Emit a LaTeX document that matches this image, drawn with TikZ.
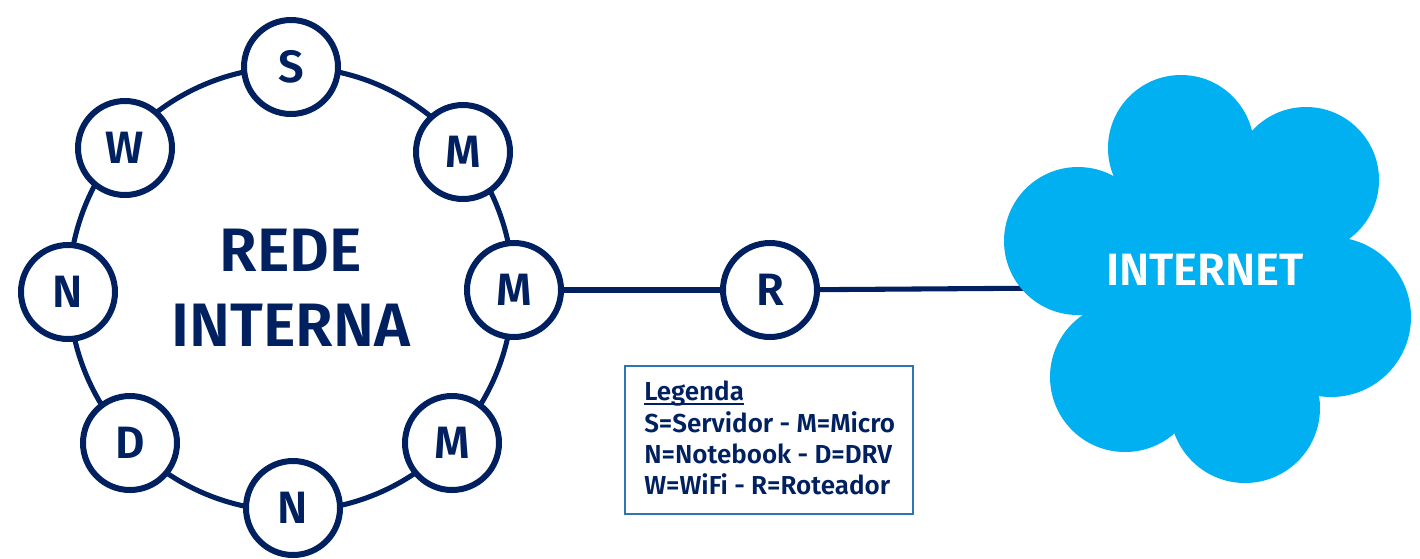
\documentclass[tikz,border=0pt]{standalone}
\usepackage{fontspec}
\setmainfont{Fira Sans}[BoldFont={* SemiBold}]
\definecolor{navy}{HTML}{002060}
\definecolor{sky}{HTML}{00B0F0}
\definecolor{legbord}{HTML}{2E75B6}
\begin{document}
\begin{tikzpicture}[x=0.75pt,y=-0.75pt,
  dev/.style={circle,draw=navy,line width=4.5pt,fill=white,minimum size=70.5pt,inner sep=0pt,
    text=navy,font=\fontsize{34}{36}\selectfont\bfseries},
  link/.style={draw=navy,line width=3.8pt},
  lobe/.style={fill=sky},
  legtext/.style={anchor=base west,text=navy,inner sep=0pt,font=\fontsize{19.5}{23.5}\selectfont\bfseries}]
\useasboundingbox (0,0) rectangle (1420,558);
% ring
\draw[link] (291,289) circle[radius=222];
\node[font=\fontsize{46}{56}\selectfont\bfseries,text=navy,align=center] (rede) at (291,288) {REDE\\INTERNA};
\node[dev] (s)  at (291,67)  {S};
\node[dev] (m1) at (463,152) {M};
\node[dev] (m2) at (514,290) {M};
\node[dev] (m3) at (452,443) {M};
\node[dev] (n1) at (293,508) {N};
\node[dev] (d)  at (130,443) {D};
\node[dev] (n2) at (68,292)  {N};
\node[dev] (w)  at (125,148) {W};
\node[dev] (r)  at (770,290) {R};
\coordinate (cl) at (1060,288);
\draw[link] (m2) -- (r);
\draw[link] (r) -- (cl);
% cloud
\fill[lobe] (1181,148) circle[radius=73];
\fill[lobe] (1306,180) circle[radius=73];
\fill[lobe] (1331,317) circle[radius=80];
\fill[lobe] (1245,408) circle[radius=75];
\fill[lobe] (1125,377) circle[radius=75];
\fill[lobe] (1078,241) circle[radius=74];
\fill[lobe] (1181,148) -- (1306,180) -- (1331,317) -- (1245,408) -- (1125,377) -- (1078,241) -- cycle;
\node[text=white,font=\fontsize{34}{40}\selectfont\bfseries] (inet) at (1205,270) {INTERNET};
% legend
\node[draw=legbord,line width=1.5pt,minimum width=216pt,minimum height=111pt,anchor=north west] (legbox) at (624,365) {};
\node[legtext] (lg) at (644,400) {Legenda};
\draw[navy,line width=1.4pt] ([yshift=-3pt]lg.base west) -- ([yshift=-3pt]lg.base east);
\node[legtext] (l1) at (644,432) {S=Servidor - M=Micro};
\node[legtext] (l2) at (644,463) {N=Notebook - D=DRV};
\node[legtext] (l3) at (644,494) {W=WiFi - R=Roteador};
\end{tikzpicture}
\end{document}
